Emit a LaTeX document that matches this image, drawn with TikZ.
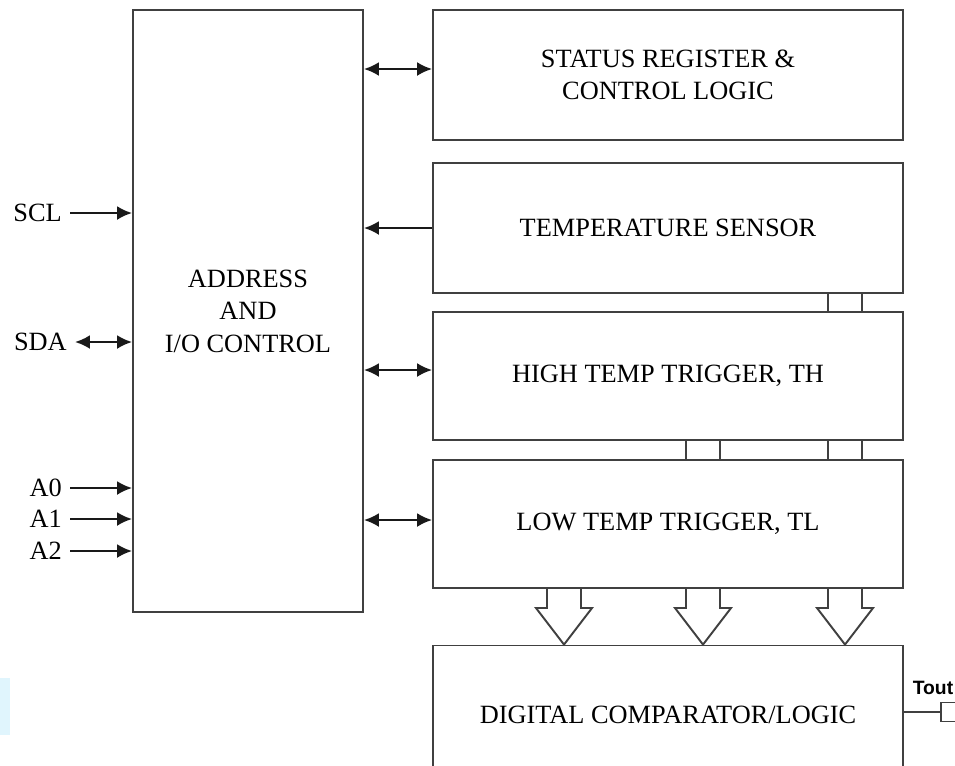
\documentclass[tikz,border=0pt]{standalone}
\usepackage{fontspec}
\setmainfont{Liberation Serif}
\newfontfamily\pinfont{Liberation Sans}
\usetikzlibrary{arrows.meta,positioning,calc}

\begin{document}
\begin{tikzpicture}[x=0.02cm, y=-0.02cm,
        >={Latex[length=3mm,width=2.8mm]},
        wire/.style={draw=black!75, line width=1.1pt},
        sig/.style={draw=black!90, line width=1.3pt},
        block/.style={wire, minimum width=9.4cm, minimum height=2.6cm,
                      align=center, font=\fontsize{15}{18.5}\selectfont},
        pin/.style={anchor=east, inner sep=4.5pt, font=\fontsize{15}{18}\selectfont}]
        \useasboundingbox (0, 0) rectangle (955, 765);
        \fill[cyan!12] (0, 678) rectangle (10, 735);

        \node[block, minimum width=4.6cm, minimum height=12.04cm] (addr) at (248, 311)
            {ADDRESS\\AND\\I/O CONTROL};

        \node[block] (status) at (668, 75) {STATUS REGISTER \&\\CONTROL LOGIC};
        \node[block] (sensor) at (668, 228) {TEMPERATURE SENSOR};
        \node[block, minimum height=2.56cm] (high) at (668, 376) {HIGH TEMP TRIGGER, TH};
        \node[block, minimum height=2.56cm] (low) at (668, 524) {LOW TEMP TRIGGER, TL};
        \node[block, minimum height=2.78cm] (comp) at (668, 715) {DIGITAL COMPARATOR/LOGIC};

        \node[pin] (scl) at (70, 213) {SCL};
        \node[pin] (sda) at (75, 342) {SDA};
        \node[pin] (a0) at (70, 488) {A0};
        \node[pin] (a1) at (70, 519) {A1};
        \node[pin] (a2) at (70, 551) {A2};

        \draw[sig, ->] (scl.east) -- (scl -| addr.west);
        \draw[sig, <->] (sda.east) -- (sda -| addr.west);
        \draw[sig, ->] (a0.east) -- (a0 -| addr.west);
        \draw[sig, ->] (a1.east) -- (a1 -| addr.west);
        \draw[sig, ->] (a2.east) -- (a2 -| addr.west);

        \draw[sig, <->] (addr.east |- 0, 69) -- (status.west |- 0, 69);
        \draw[sig, ->] (sensor.west) -- (sensor -| addr.east);
        \draw[sig, <->] (addr.east |- 0, 370) -- (high.west |- 0, 370);
        \draw[sig, <->] (addr.east |- 0, 520) -- (low.west |- 0, 520);

        % data lines between the registers
        \foreach \x in {828, 862}
            \draw[wire] (\x, 0 |- sensor.south) -- (\x, 0 |- high.north);
        \foreach \x in {686, 720, 828, 862}
            \draw[wire] (\x, 0 |- high.south) -- (\x, 0 |- low.north);

        % wide arrows into the comparator
        \foreach \x in {564, 703, 845}
            \draw[wire] (\x-17, 0 |- low.south) -- (\x-17, 608) -- (\x-28, 608)
                -- (\x, 0 |- comp.north) -- (\x+28, 608) -- (\x+17, 608)
                -- (\x+17, 0 |- low.south);

        \node[wire, anchor=west, minimum width=0.5cm, minimum height=0.38cm,
              inner sep=0pt] (tout) at (940, 712) {};
        \draw[wire] (comp.east |- tout) -- (tout.west);
        \node[font=\pinfont\bfseries\fontsize{11}{13}\selectfont] (toutlbl) at (933, 688) {Tout};
\end{tikzpicture}
\end{document}
